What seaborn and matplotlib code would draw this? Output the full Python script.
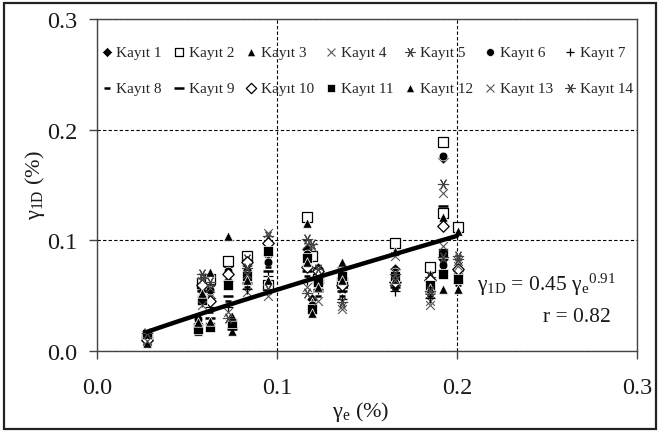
import numpy as np
import pandas as pd
import matplotlib
matplotlib.use("Agg")
import matplotlib.pyplot as plt
import seaborn as sns
from matplotlib.patches import Rectangle
from matplotlib.ticker import FormatStrFormatter

sns.set_style("white")
plt.rcParams["font.family"] = ["Liberation Serif", "DejaVu Serif"]
plt.rcParams["mathtext.fontset"] = "custom"
plt.rcParams["mathtext.rm"] = "Liberation Serif"
plt.rcParams["mathtext.it"] = "Liberation Serif:italic"

nan = np.nan

# gamma_e levels (%) at which the records were evaluated
gamma_e = [0.0278, 0.056, 0.0583, 0.0628, 0.0728, 0.075, 0.0833, 0.095, 0.1167,
           0.1194, 0.1228, 0.136, 0.1656, 0.185, 0.1922, 0.1922, 0.2006]

# gamma_1D (%) for each record, aligned with gamma_e
kayit_01 = [.012, .024, .055, .060, .077, .022, .078, .087, .092, .047, .075, .076, .074, .073, .174, .083, .070]
kayit_02 = [.014, nan, .061, .065, .081, nan, .086, .060, .121, .086, .065, .062, .098, .076, .189, .125, .112]
kayit_03 = [.011, .018, .058, .071, .066, .018, .082, .084, .116, .044, .070, .080, .090, .070, .121, nan, .108]
kayit_04 = [.010, nan, .063, .052, .068, nan, .053, .107, .097, .094, .060, .041, .086, .045, .143, nan, .081]
kayit_05 = [.013, nan, .070, .048, .063, nan, .083, .104, .101, nan, .068, .057, .060, .067, .151, nan, .086]
kayit_06 = [.012, .029, .050, .055, .072, .028, .073, .080, .088, .042, .066, .072, .071, .062, .176, .078, .068]
kayit_07 = [.009, nan, .044, .040, .040, nan, .056, .068, .064, nan, .056, .047, .054, .048, .073, nan, .072]
kayit_08 = [.011, nan, .048, .035, .045, nan, .058, .076, .068, nan, .050, .050, .056, .050, .080, nan, .060]
kayit_09 = [.013, nan, .054, .030, .050, .020, .061, .072, .072, nan, .054, .054, .058, .052, .131, nan, .062]
kayit_10 = [.010, nan, .060, .045, .070, nan, .080, .098, .076, nan, .072, .060, .062, .064, .113, nan, .074]
kayit_11 = [.015, .020, .046, .022, .060, .025, .068, .090, .084, .038, .062, .068, .068, .060, .089, .070, .065]
kayit_12 = [.007, .026, .052, .027, .104, .032, .064, .064, .080, .034, .058, .064, .065, .057, .056, nan, .056]
kayit_13 = [.009, nan, .042, .057, .035, nan, .070, .050, .058, nan, .045, .038, .064, .042, .095, nan, .077]
kayit_14 = [.016, nan, .066, .062, .030, nan, .075, .056, .052, .097, .074, .044, .070, .054, .085, nan, .083]

records = [kayit_01, kayit_02, kayit_03, kayit_04, kayit_05, kayit_06, kayit_07,
           kayit_08, kayit_09, kayit_10, kayit_11, kayit_12, kayit_13, kayit_14]
labels = [f"Kayıt {i}" for i in range(1, 15)]

# power-law fit gamma_1D = a * gamma_e ** b
fit_a, fit_b = 0.45, 0.91
fit_r = 0.82
fit_range = (0.028, 0.2)

asterisk = (6, 2, 90)
styles = [
    dict(marker="D", color="black", s=34),
    dict(marker="s", color="white", edgecolor="black", s=42, linewidth=0.9),
    dict(marker="^", color="black", s=46),
    dict(marker="x", color="#555555", s=40, linewidth=0.8),
    dict(marker=asterisk, color="#444444", s=55, linewidth=0.8),
    dict(marker="o", color="black", s=40),
    dict(marker="+", color="black", s=50, linewidth=0.9),
    dict(marker="_", color="black", s=22, linewidth=1.8),
    dict(marker="_", color="black", s=60, linewidth=1.8),
    dict(marker="D", color="white", edgecolor="black", s=34, linewidth=0.9),
    dict(marker="s", color="black", s=42),
    dict(marker="^", color="black", s=46),
    dict(marker="x", color="#555555", s=40, linewidth=0.8),
    dict(marker=asterisk, color="#444444", s=55, linewidth=0.8),
]

fig = plt.figure(figsize=(6.59, 4.35), dpi=100)
ax = fig.add_axes([97 / 659, 1 - 352 / 435, 540 / 659, 332 / 435])

for vals, lab, st in zip(records, labels, styles):
    df = pd.DataFrame({"x": gamma_e, "y": vals}).dropna()
    sns.scatterplot(data=df, x="x", y="y", ax=ax, label=lab, zorder=3, **st)

xfit = np.linspace(*fit_range, 100)
sns.lineplot(x=xfit, y=fit_a * xfit ** fit_b, ax=ax, color="black", linewidth=3.2,
             zorder=4, legend=False)

ax.set_xlim(0, 0.3)
ax.set_ylim(0, 0.3)
ax.set_xticks([0, 0.1, 0.2, 0.3])
ax.set_yticks([0, 0.1, 0.2, 0.3])
ax.xaxis.set_major_formatter(FormatStrFormatter("%.1f"))
ax.yaxis.set_major_formatter(FormatStrFormatter("%.1f"))
ax.set_xlabel("")
ax.set_ylabel("")
ax.grid(True, color="black", linestyle=(0, (3, 2)), linewidth=0.8)
for sp in ax.spines.values():
    sp.set_visible(True)
    sp.set_color("#444444")
    sp.set_linewidth(1.0)
ax.tick_params(axis="both", which="major", direction="out", length=6, width=1,
               color="#444444", labelsize=17.5, labelcolor="#1a1a1a",
               bottom=True, left=True)
ax.tick_params(axis="y", pad=8)
ax.tick_params(axis="x", pad=13)

# legend laid out row by row (matplotlib fills columns first)
handles, labs = ax.get_legend_handles_labels()
order = [i + 7 * r for i in range(7) for r in range(2)]
leg = ax.legend([handles[k] for k in order], [labs[k] for k in order],
                ncol=7, loc="upper center", bbox_to_anchor=(0.5, 0.94),
                frameon=False, fontsize=11, handlelength=0.7, handletextpad=0.3,
                columnspacing=0.75, labelspacing=1.45, borderaxespad=0,
                markerscale=0.9)

fig.text(35 / 659, 1 - 185 / 435, r"$\mathrm{γ_{1D}}$ (%)", rotation=90,
         ha="center", va="center", fontsize=16, color="#1a1a1a")
fig.text(361 / 659, 1 - 412 / 435, r"$\mathrm{γ_{e}}$ (%)",
         ha="center", va="center", fontsize=16, color="#1a1a1a")
fig.text(547 / 659, 1 - 285 / 435,
         rf"$\mathrm{{γ_{{1D}}}}$ = {fit_a:.2f} $\mathrm{{{{γ_e}}^{{{fit_b:.2f}}}}}$",
         ha="center", va="center", fontsize=15.5, color="#1a1a1a")
fig.text(577 / 659, 1 - 318 / 435, f"r = {fit_r:.2f}",
         ha="center", va="center", fontsize=15.5, color="#1a1a1a")

fig.patches.append(Rectangle((4 / 659, 5 / 435), 652 / 659, 426 / 435,
                             transform=fig.transFigure, fill=False,
                             edgecolor="#222222", linewidth=1.6))

fig.savefig("out.png", dpi=100)
